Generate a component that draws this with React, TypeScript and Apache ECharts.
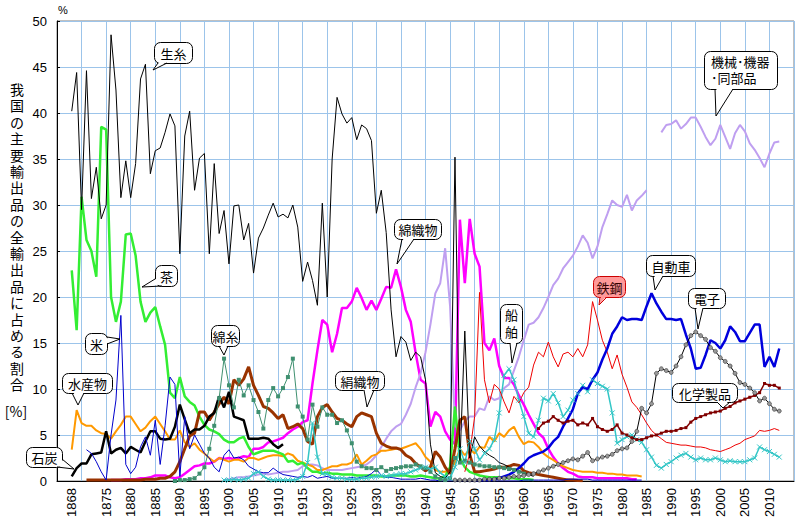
import React, { useEffect, useRef } from 'react';
import * as echarts from 'echarts';

// 我国の主要輸出品の全輸出品に占める割合 (%), 1868-2012
const xTickYears = [
  1868, 1875, 1880, 1885, 1890, 1895, 1900, 1905, 1910, 1915, 1920, 1925, 1930, 1935, 1940,
  1945, 1950, 1955, 1960, 1965, 1970, 1975, 1980, 1985, 1990, 1995, 2000, 2005, 2010,
];

// 生糸 1868-1962
const silkStart = 1868;
const silk = [
  40.2, 44.4, 29.5, 44.6, 30.7, 34.1, 28.5, 30.0, 48.5, 42.5,
  30.8, 34.8, 30.8, 34.5, 43.7, 45.3, 33.4, 35.9, 36.2, 37.9,
  39.9, 38.6, 24.7, 37.5, 40.2, 31.6, 35.1, 35.6, 24.7, 34.5,
  26.9, 29.4, 23.6, 29.9, 30.0, 26.2, 28.0, 22.6, 26.4, 27.5,
  28.9, 30.2, 28.7, 29.0, 28.6, 30.0, 27.6, 21.7, 23.8, 21.8,
  19.1, 30.2, 20.0, 35.0, 41.7, 39.9, 38.9, 39.5, 37.1, 38.7,
  38.3, 37.0, 29.1, 31.6, 27.0, 18.6, 13.5, 15.7, 15.1, 13.1,
  14.0, 13.5, 11.0, 4.0, 0.9, 0.5, 0.3, 1.0, 35.2, 2.0,
  16.3, 2.5, 4.8, 3.8, 3.2, 2.8, 2.5, 2.0, 1.8, 1.5,
  1.3, 1.1, 0.9, 0.7, 0.5,
];

// 茶 1868-1962
const teaStart = 1868;
const tea = [
  22.9, 16.4, 30.9, 26.2, 25.0, 22.2, 38.5, 38.2, 20.0, 17.3,
  19.5, 26.8, 26.9, 24.5, 19.5, 17.3, 18.3, 18.9, 16.8, 14.8,
  9.6, 9.0, 11.3, 9.2, 8.6, 8.2, 7.0, 6.1, 5.6, 5.4,
  5.1, 4.5, 4.2, 4.2, 4.6, 4.8, 3.7, 2.9, 3.1, 3.3,
  3.3, 3.3, 3.1, 2.9, 2.1, 2.2, 1.8, 2.0, 1.4, 1.0,
  1.0, 0.8, 0.9, 0.8, 0.8, 0.7, 0.7, 0.7, 0.6, 0.6,
  0.6, 0.6, 0.6, 0.5, 0.5, 0.6, 0.6, 0.6, 0.6, 0.5,
  0.5, 0.6, 0.5, 0.4, 0.3, 0.3, 0.5, 1.5, 8.1, 2.5,
  1.5, 1.0, 0.8, 0.6, 0.5, 0.4, 0.4, 0.4, 0.3, 0.3,
  0.3, 0.2, 0.2, 0.2, 0.1,
];

// 米 1871-1984
const riceStart = 1871;
const rice = [
  3.4, 3.0, 2.1, 1.0, 0.1, 5.0, 8.8, 18.0, 1.8, 0.8,
  1.5, 3.7, 4.8, 2.8, 6.6, 1.8, 6.0, 11.3, 10.5, 0.5,
  7.0, 3.5, 5.0, 4.0, 3.0, 2.5, 1.5, 1.0, 2.8, 3.4,
  2.5, 2.6, 2.3, 1.6, 1.3, 1.0, 0.9, 0.9, 1.4, 1.0,
  0.7, 0.6, 0.5, 0.4, 0.5, 0.4, 0.6, 0.3, 0.4, 0.5,
  0.3, 0.3, 0.3, 0.3, 0.4, 0.3, 0.4, 0.5, 0.8, 1.3,
  0.6, 0.4, 0.4, 0.3, 0.2, 0.2, 0.2, 0.2, 0.3, 0.2,
  0.1, 0.1, 0.0, 0.0, 0.0, 0.0, 0.0, 0.0, 0.0, 0.0,
  0.0, 0.0, 0.0, 0.0, 0.0, 0.0, 0.0, 0.0, 0.0, 0.1,
  0.1, 0.1, 0.1, 0.1, 0.1, 0.1, 0.1, 0.1, 0.2, 0.2,
  0.2, 0.2, 0.2, 0.1, 0.1, 0.1, 0.1, 0.1, 0.1, 0.1,
  0.1, 0.1, 0.1, 0.1,
];

// 水産物 1868-1984
const marineStart = 1868;
const marine = [
  3.4, 7.7, 6.3, 6.0, 6.0, 5.5, 5.2, 5.1, 4.6, 5.4,
  6.1, 7.0, 7.0, 6.2, 5.4, 5.8, 6.5, 7.0, 6.2, 5.4,
  4.5, 4.5, 5.5, 4.2, 3.7, 4.1, 3.4, 3.0, 2.5, 2.1,
  2.5, 2.3, 2.1, 2.3, 2.3, 2.1, 2.5, 2.5, 2.3, 2.5,
  2.7, 2.8, 2.8, 2.7, 3.0, 2.8, 2.2, 2.0, 1.8, 1.6,
  1.2, 1.2, 1.4, 1.6, 1.6, 1.8, 1.8, 2.0, 2.9, 1.8,
  2.2, 2.7, 2.9, 3.3, 3.3, 3.4, 3.5, 3.5, 3.7, 3.9,
  4.1, 3.5, 2.6, 2.1, 1.2, 1.0, 1.0, 1.2, 2.0, 3.5,
  2.8, 3.5, 3.0, 3.7, 3.6, 4.8, 4.3, 5.2, 4.8, 5.5,
  5.9, 4.8, 4.0, 4.3, 4.2, 3.7, 3.0, 2.6, 2.3, 1.9,
  1.6, 1.4, 1.2, 1.1, 1.0, 1.0, 1.0, 0.9, 0.9, 0.8,
  0.8, 0.7, 0.7, 0.6, 0.6, 0.6, 0.5,
];

// 石炭 1868-1911
const coalStart = 1868;
const coal = [
  0.5, 1.4, 1.9, 1.9, 2.9, 3.0, 3.1, 5.4, 3.0, 3.4,
  3.6, 3.0, 3.7, 3.4, 3.1, 4.3, 5.4, 5.4, 4.6, 4.5,
  4.6, 5.9, 8.3, 6.7, 5.2, 5.6, 5.6, 6.0, 7.0, 7.4,
  9.2, 8.0, 9.7, 7.0, 6.8, 6.6, 4.6, 4.6, 4.6, 4.7,
  4.6, 4.0, 3.6, 4.0,
];

// 綿糸 1889-1960
const yarnStart = 1889;
const yarn = [
  0.0, 0.1, 0.1, 0.2, 0.3, 0.8, 1.5, 3.5, 6.0, 9.0,
  13.3, 10.4, 8.0, 11.0, 9.3, 10.4, 8.8, 7.5, 5.7, 8.8,
  10.1, 9.2, 10.1, 11.3, 13.3, 8.1, 7.0, 4.5, 8.3, 5.9,
  8.0, 7.2, 7.2, 6.3, 6.6, 5.5, 4.1, 2.1, 1.6, 1.4,
  1.4, 1.2, 1.5, 1.1, 1.3, 1.4, 1.5, 1.6, 1.6, 1.8,
  1.6, 1.4, 1.0, 0.5, 0.2, 0.1, 0.3, 2.5, 2.0, 2.2,
  2.0, 1.8, 1.7, 1.6, 1.6, 1.5, 1.5, 1.4, 1.3, 1.2,
  1.0, 0.8,
];

// 絹織物 1871-1972
const silkFabricStart = 1871;
const silkFabric = [
  0.1, 0.1, 0.1, 0.1, 0.1, 0.1, 0.1, 0.1, 0.1, 0.1,
  0.1, 0.1, 0.2, 0.2, 0.2, 0.3, 0.3, 0.5, 1.0, 2.1,
  3.5, 4.9, 5.2, 7.5, 7.5, 6.6, 7.5, 8.4, 9.1, 8.4,
  11.0, 10.4, 11.1, 12.4, 10.4, 9.3, 8.1, 7.9, 7.4, 6.8,
  7.2, 5.7, 5.9, 6.2, 5.7, 4.3, 4.0, 7.0, 8.0, 8.3,
  7.5, 6.8, 6.6, 6.2, 5.9, 7.0, 7.4, 7.2, 7.0, 5.2,
  4.1, 3.8, 3.6, 3.6, 3.4, 2.8, 2.5, 1.9, 1.5, 1.1,
  1.5, 3.2, 2.6, 1.5, 0.8, 3.5, 6.6, 7.0, 2.9, 1.0,
  1.0, 1.1, 1.2, 1.3, 1.5, 1.5, 1.6, 1.8, 1.7, 1.1,
  0.9, 0.8, 0.7, 0.6, 0.5, 0.4, 0.3, 0.2, 0.1, 0.1,
  0.05, 0.02,
];

// 綿織物 1876-1983
const cottonFabricStart = 1876;
const cottonFabric = [
  0.1, 0.1, 0.1, 0.2, 0.2, 0.2, 0.3, 0.3, 0.4, 0.6,
  0.6, 0.6, 0.4, 0.3, 0.4, 0.8, 1.2, 1.6, 1.7, 1.9,
  1.9, 2.1, 2.5, 2.4, 2.5, 2.4, 2.5, 2.7, 2.6, 3.5,
  3.5, 3.7, 4.2, 4.3, 4.5, 4.7, 5.2, 5.6, 5.9, 6.4,
  6.6, 10.6, 14.2, 17.5, 17.0, 14.0, 16.0, 18.8, 18.8, 19.5,
  21.0, 19.9, 18.6, 19.6, 18.6, 19.8, 21.1, 21.0, 23.0, 21.1,
  18.6, 17.3, 13.9, 11.0, 10.6, 5.9, 7.5, 7.0, 5.4, 4.5,
  4.0, 28.4, 21.5, 28.5, 24.7, 23.3, 15.0, 14.2, 15.5, 12.5,
  11.2, 11.2, 10.5, 9.3, 8.3, 7.2, 6.2, 5.2, 4.7, 3.5,
  2.6, 1.9, 1.4, 1.0, 0.8, 0.5, 0.4, 0.4, 0.4, 0.3,
  0.3, 0.3, 0.3, 0.3, 0.3, 0.3, 0.2, 0.2,
];

// 機械機器 1899-1985
const machineryEarlyStart = 1899;
const machineryEarly = [
  0.1, 0.2, 0.3, 0.4, 0.4, 0.5, 0.6, 0.7, 0.8, 0.7,
  0.8, 0.9, 1.0, 1.0, 1.1, 1.2, 1.6, 1.8, 1.8, 1.7,
  1.4, 1.2, 1.2, 1.2, 1.2, 1.3, 1.4, 1.5, 1.6, 1.8,
  2.2, 2.8, 3.7, 4.6, 5.4, 5.9, 6.2, 7.2, 8.4, 10.2,
  11.7, 14.0, 17.0, 20.4, 21.5, 25.3, 19.0, 6.0, 5.5, 6.5,
  7.0, 7.0, 7.9, 7.7, 9.2, 8.8, 9.0, 10.1, 10.5, 12.0,
  13.5, 15.3, 17.0, 17.2, 17.8, 18.8, 20.0, 21.3, 22.0, 23.1,
  23.8, 24.5, 25.5, 26.7, 25.9, 24.2, 25.5, 27.6, 29.0, 30.5,
  30.0, 29.8, 31.1, 29.4, 30.5, 31.0, 31.6,
];

// 機械・機器・同部品 1988-2012
const machineryStart = 1988;
const machinery = [
  37.9, 38.7, 38.8, 39.2, 38.3, 38.8, 39.5, 39.5, 38.5, 37.4,
  36.5, 37.2, 38.7, 37.4, 36.1, 37.8, 38.7, 38.0, 36.7, 36.0,
  35.1, 34.1, 35.6, 36.8, 36.9,
];

// 船舶 1899-2012
const shipsStart = 1899;
const ships = [
  0.1, 0.1, 0.2, 0.1, 0.2, 0.3, 0.8, 1.0, 0.5, 0.2,
  0.1, 0.1, 0.1, 0.1, 0.1, 0.2, 0.5, 2.0, 6.3, 2.6,
  0.8, 0.8, 0.4, 0.3, 0.3, 0.2, 0.2, 0.2, 0.3, 0.3,
  0.4, 0.5, 0.6, 0.5, 0.6, 0.7, 0.8, 0.8, 1.0, 1.2,
  1.4, 1.5, 1.3, 1.5, 0.9, 0.5, 0.3, 1.5, 3.5, 2.0,
  4.3, 3.5, 2.3, 3.0, 3.5, 4.5, 7.4, 11.5, 12.2, 11.0,
  8.8, 7.0, 5.2, 4.8, 6.6, 9.0, 8.7, 9.5, 8.5, 7.0,
  7.7, 8.8, 9.5, 10.4, 9.7, 11.0, 10.6, 10.3, 10.0, 7.4,
  4.1, 4.5, 4.8, 5.0, 4.5, 4.2, 3.4, 2.6, 1.7, 1.4,
  1.8, 2.1, 2.5, 2.8, 3.0, 2.6, 2.3, 2.5, 2.3, 2.3,
  2.5, 2.3, 2.1, 2.2, 2.1, 2.1, 2.1, 2.3, 2.5, 3.7,
  3.4, 3.2, 2.9, 2.6,
];

// 鉄鋼 1948-2012
const steelStart = 1948;
const steel = [
  1.0, 3.0, 7.0, 20.5, 11.0, 8.5, 10.5, 10.0, 8.6, 7.4,
  9.2, 8.5, 9.6, 10.2, 12.6, 14.0, 13.5, 15.1, 13.5, 12.4,
  13.8, 14.0, 13.5, 14.4, 13.5, 14.8, 19.5, 17.5, 15.3, 14.0,
  12.2, 13.7, 11.6, 10.2, 8.6, 8.0, 7.2, 6.3, 5.5, 5.0,
  4.6, 4.2, 4.1, 4.0, 3.9, 3.9, 3.8, 3.7, 3.7, 3.6,
  3.4, 3.3, 3.2, 3.4, 3.6, 3.9, 4.1, 4.5, 4.7, 4.9,
  5.5, 5.4, 5.5, 5.7, 5.5,
];

// 自動車 1950-2012
const carsStart = 1950;
const cars = [
  0.1, 0.1, 0.1, 0.1, 0.2, 0.3, 0.5, 0.7, 1.0, 1.4,
  1.9, 2.5, 2.8, 3.0, 3.2, 3.6, 4.3, 4.8, 5.9, 6.8,
  7.8, 9.5, 10.2, 10.0, 11.0, 11.8, 13.2, 14.4, 16.0, 16.8,
  17.8, 17.5, 17.6, 17.6, 17.5, 19.0, 20.4, 19.3, 18.4, 17.6,
  17.6, 17.5, 17.6, 15.9, 14.4, 12.2, 12.3, 13.7, 15.3, 15.0,
  14.4, 15.3, 16.8, 16.2, 15.2, 15.2, 16.1, 17.0, 17.0, 12.4,
  13.5, 12.4, 14.4,
];

// 電子 1946-2012
const electronicsStart = 1946;
const electronics = [
  0.1, 0.1, 0.1, 0.1, 0.1, 0.1, 0.2, 0.2, 0.2, 0.3,
  0.3, 0.4, 0.5, 0.5, 0.6, 0.7, 0.8, 1.0, 1.2, 1.4,
  1.6, 1.8, 2.0, 2.2, 2.4, 2.3, 2.7, 3.1, 2.2, 2.4,
  2.6, 2.7, 2.9, 3.3, 3.5, 3.6, 4.3, 5.4, 7.9, 7.4,
  8.4, 11.7, 12.2, 12.0, 11.8, 12.5, 13.5, 14.8, 15.8, 16.2,
  15.8, 15.4, 14.5, 14.1, 13.4, 13.0, 12.5, 11.7, 10.7, 10.5,
  10.1, 9.6, 8.7, 9.0, 8.4, 7.8, 7.6,
];

// 化学製品 1963-2012
const chemicalsStart = 1963;
const chemicals = [
  5.7, 6.3, 6.5, 7.0, 6.6, 6.3, 6.5, 6.6, 6.1, 6.3,
  6.1, 6.8, 5.9, 5.6, 5.4, 5.6, 6.1, 5.2, 5.0, 4.7,
  4.5, 4.5, 4.7, 4.9, 5.0, 5.2, 5.4, 5.4, 5.5, 5.7,
  5.8, 6.4, 6.8, 7.0, 7.2, 7.4, 7.5, 7.6, 7.9, 8.1,
  8.5, 8.7, 8.9, 9.1, 9.3, 9.6, 10.6, 10.4, 10.4, 10.1,
];

const yTitle = '我国の主要輸出品の全輸出品に占める割合';

const CJK = '"Noto Sans CJK JP", sans-serif';
// Latin-first stack for stacked glyphs; the CJK glyphs fall back to Noto
const STACK_FONT = '"Liberation Sans", "Noto Sans CJK JP", sans-serif';
const SANS = '"Liberation Sans", Arial, sans-serif';
const GRID_BLUE = '#9cc4ea';

const toPoints = (start: number, values: number[]) => values.map((v, i) => [start + i, v]);

const line = (name: string, start: number, values: number[], color: string, width: number, extra: any = {}) => ({
  type: 'line',
  name,
  data: toPoints(start, values),
  symbol: 'none',
  showSymbol: false,
  lineStyle: { color, width },
  itemStyle: { color },
  emphasis: { disabled: true },
  ...extra,
});

type Callout = {
  text: string;
  x: number;
  y: number;
  w: number;
  h: number;
  base: number[][];
  tip: number[];
  fill?: string;
  stroke?: string;
  color?: string;
  align?: 'left' | 'center';
  lineHeight?: number;
};

const callouts: Callout[] = [
  { text: '生糸', x: 154, y: 42, w: 38, h: 21, base: [[158, 63], [167, 63]], tip: [153, 70] },
  { text: '茶', x: 155, y: 265, w: 22, h: 21, base: [[155, 279], [162, 286]], tip: [142, 287] },
  { text: '米', x: 85, y: 333, w: 22, h: 21, base: [[107, 337], [107, 344]], tip: [120, 339] },
  { text: '水産物', x: 62, y: 373, w: 50, h: 20, base: [[72, 393], [84, 393]], tip: [78, 405] },
  { text: '石炭', x: 26, y: 447, w: 36, h: 20, base: [[62, 459], [57, 467]], tip: [74, 469] },
  { text: '綿糸', x: 211, y: 325, w: 28, h: 21, base: [[219, 346], [228, 346]], tip: [224, 355] },
  { text: '絹織物', x: 335, y: 371, w: 49, h: 19, base: [[364, 390], [374, 390]], tip: [367, 407] },
  { text: '綿織物', x: 394, y: 219, w: 47, h: 20, base: [[402, 239], [414, 239]], tip: [397, 264] },
  { text: '船\n舶', x: 500, y: 304, w: 22, h: 39, base: [[510, 343], [517, 343]], tip: [512, 363], lineHeight: 17 },
  {
    text: '鉄鋼', x: 593, y: 276, w: 32, h: 21, base: [[600, 297], [607, 297]], tip: [599, 305],
    fill: '#ff9999', stroke: '#cc0000', color: '#330000',
  },
  { text: '自動車', x: 646, y: 255, w: 49, h: 21, base: [[653, 276], [663, 276]], tip: [655, 290] },
  { text: '電子', x: 688, y: 288, w: 37, h: 20, base: [[695, 308], [703, 308]], tip: [698, 329] },
  { text: '化学製品', x: 672, y: 383, w: 65, h: 19, base: [[717, 402], [730, 402]], tip: [723, 408] },
  {
    text: '機械･機器\n･同部品', x: 704, y: 51, w: 73, h: 38, base: [[715, 89], [733, 89]], tip: [716, 116],
    align: 'left', lineHeight: 16,
  },
];

const bubble = (c: Callout) => {
  const fill = c.fill || '#ffffff';
  const stroke = c.stroke || '#000000';
  const cx = c.x + c.w / 2;
  const cy = c.y + c.h / 2;
  const inset = c.base.map(([bx, by]) => {
    const dx = cx - bx;
    const dy = cy - by;
    const d = Math.hypot(dx, dy) || 1;
    return [bx + (dx / d) * 1.8, by + (dy / d) * 1.8];
  });
  const align = c.align || 'center';
  const multiLine = c.text.indexOf('\n') >= 0;
  return {
    type: 'group',
    children: [
      {
        type: 'rect',
        z: 100,
        shape: { x: c.x + 0.5, y: c.y + 0.5, width: c.w, height: c.h, r: 6 },
        style: { fill, stroke, lineWidth: 1 },
      },
      {
        type: 'polygon',
        z: 101,
        shape: { points: [inset[0], c.tip, inset[1]] },
        style: { fill, stroke: null },
      },
      {
        type: 'polyline',
        z: 102,
        shape: { points: [c.base[0], c.tip, c.base[1]] },
        style: { stroke, fill: null, lineWidth: 1 },
      },
      {
        type: 'text',
        z: 103,
        style: {
          text: c.text,
          x: align === 'left' ? c.x + 7 : cx + 0.5,
          y: cy + 0.5,
          fill: c.color || '#000000',
          font: `13px ${multiLine ? STACK_FONT : CJK}`,
          lineHeight: c.lineHeight || 15,
          align,
          textAlign: align,
          verticalAlign: 'middle',
          textVerticalAlign: 'middle',
        },
      },
    ],
  };
};

// vertical axis title, one glyph per element
const titleChars = yTitle.split('').map((ch, i) => ({
  type: 'text',
  z: 100,
  style: {
    text: ch,
    x: 17,
    y: 90 + i * 16.4,
    fill: '#000000',
    font: `14px ${STACK_FONT}`,
    lineHeight: 15,
    align: 'center',
    textAlign: 'center',
    verticalAlign: 'middle',
    textVerticalAlign: 'middle',
  },
}));

const option = {
  animation: false,
  backgroundColor: '#ffffff',
  grid: {
    left: 57,
    top: 21,
    width: 737,
    height: 460,
    show: true,
    borderColor: '#808080',
    borderWidth: 1,
    backgroundColor: 'transparent',
  },
  xAxis: {
    type: 'value',
    min: 1865,
    max: 2015,
    interval: 5,
    axisLine: { show: true, onZero: false, lineStyle: { color: '#000000', width: 1 } },
    axisTick: { show: false },
    splitLine: { show: true, lineStyle: { color: GRID_BLUE, width: 1 } },
    axisLabel: {
      customValues: xTickYears,
      rotate: 90,
      margin: 7,
      fontSize: 13,
      color: '#000000',
      fontFamily: SANS,
      formatter: (v: number) => String(v),
    },
  },
  yAxis: {
    type: 'value',
    min: 0,
    max: 50,
    interval: 5,
    axisLine: { show: true, lineStyle: { color: '#000000', width: 1 } },
    axisTick: { show: true, inside: true, length: 3, lineStyle: { color: '#000000' } },
    splitLine: { show: true, lineStyle: { color: GRID_BLUE, width: 1 } },
    axisLabel: { margin: 10, fontSize: 13, color: '#000000', fontFamily: SANS },
  },
  series: [
    line('綿織物', cottonFabricStart, cottonFabric, '#ff00ff', 2.5),
    line('機械機器', machineryEarlyStart, machineryEarly, '#bf9ff0', 2),
    line('機械・機器・同部品', machineryStart, machinery, '#bf9ff0', 2),
    line('水産物', marineStart, marine, '#ff9900', 2),
    line('茶', teaStart, tea, '#33ee33', 2.5),
    line('絹織物', silkFabricStart, silkFabric, '#993300', 3),
    line('石炭', coalStart, coal, '#000000', 2.5),
    line('綿糸', yarnStart, yarn, '#3f9070', 1, {
      symbol: 'rect', symbolSize: 4, showSymbol: true, showAllSymbol: true,
      itemStyle: { color: '#3f9070' },
    }),
    line('米', riceStart, rice, '#0000cc', 1),
    line('船舶', shipsStart, ships, '#33c6c6', 1.5, {
      symbol: 'path://M0,0L10,10M10,0L0,10', symbolSize: 5, showSymbol: true, showAllSymbol: true,
      itemStyle: { color: 'rgba(0,0,0,0)', borderColor: '#33c6c6', borderWidth: 1 },
    }),
    line('鉄鋼', steelStart, steel, '#ee0000', 1),
    line('自動車', carsStart, cars, '#0000dd', 2.5),
    line('化学製品', chemicalsStart, chemicals, '#800000', 1.5, {
      symbol: 'rect', symbolSize: 3, showSymbol: true, showAllSymbol: true,
      itemStyle: { color: '#800000' },
    }),
    line('電子', electronicsStart, electronics, '#000000', 1, {
      symbol: 'circle', symbolSize: 4, showSymbol: true, showAllSymbol: true,
      itemStyle: { color: '#999999', borderColor: '#333333', borderWidth: 0.6 },
    }),
    line('生糸', silkStart, silk, '#000000', 1),
  ],
  graphic: [
    ...titleChars,
    {
      type: 'text',
      z: 100,
      style: {
        text: '[%]',
        x: 16,
        y: 411,
        fill: '#000000',
        font: `14px ${CJK}`,
        align: 'center',
        textAlign: 'center',
        verticalAlign: 'middle',
        textVerticalAlign: 'middle',
      },
    },
    {
      type: 'text',
      z: 100,
      style: {
        text: '%',
        x: 63,
        y: 10,
        fill: '#000000',
        font: `11px ${SANS}`,
        align: 'center',
        textAlign: 'center',
        verticalAlign: 'middle',
        textVerticalAlign: 'middle',
      },
    },
    ...callouts.map(bubble),
  ],
};

export default function App() {
  const ref = useRef<HTMLDivElement>(null);

  useEffect(() => {
    document.body.style.margin = '0';
    if (!ref.current) return;
    const chart = echarts.init(ref.current, undefined, { renderer: 'svg' });
    chart.setOption(option as any);
    return () => {
      chart.dispose();
    };
  }, []);

  return <div ref={ref} style={{ width: 798, height: 525 }} />;
}
